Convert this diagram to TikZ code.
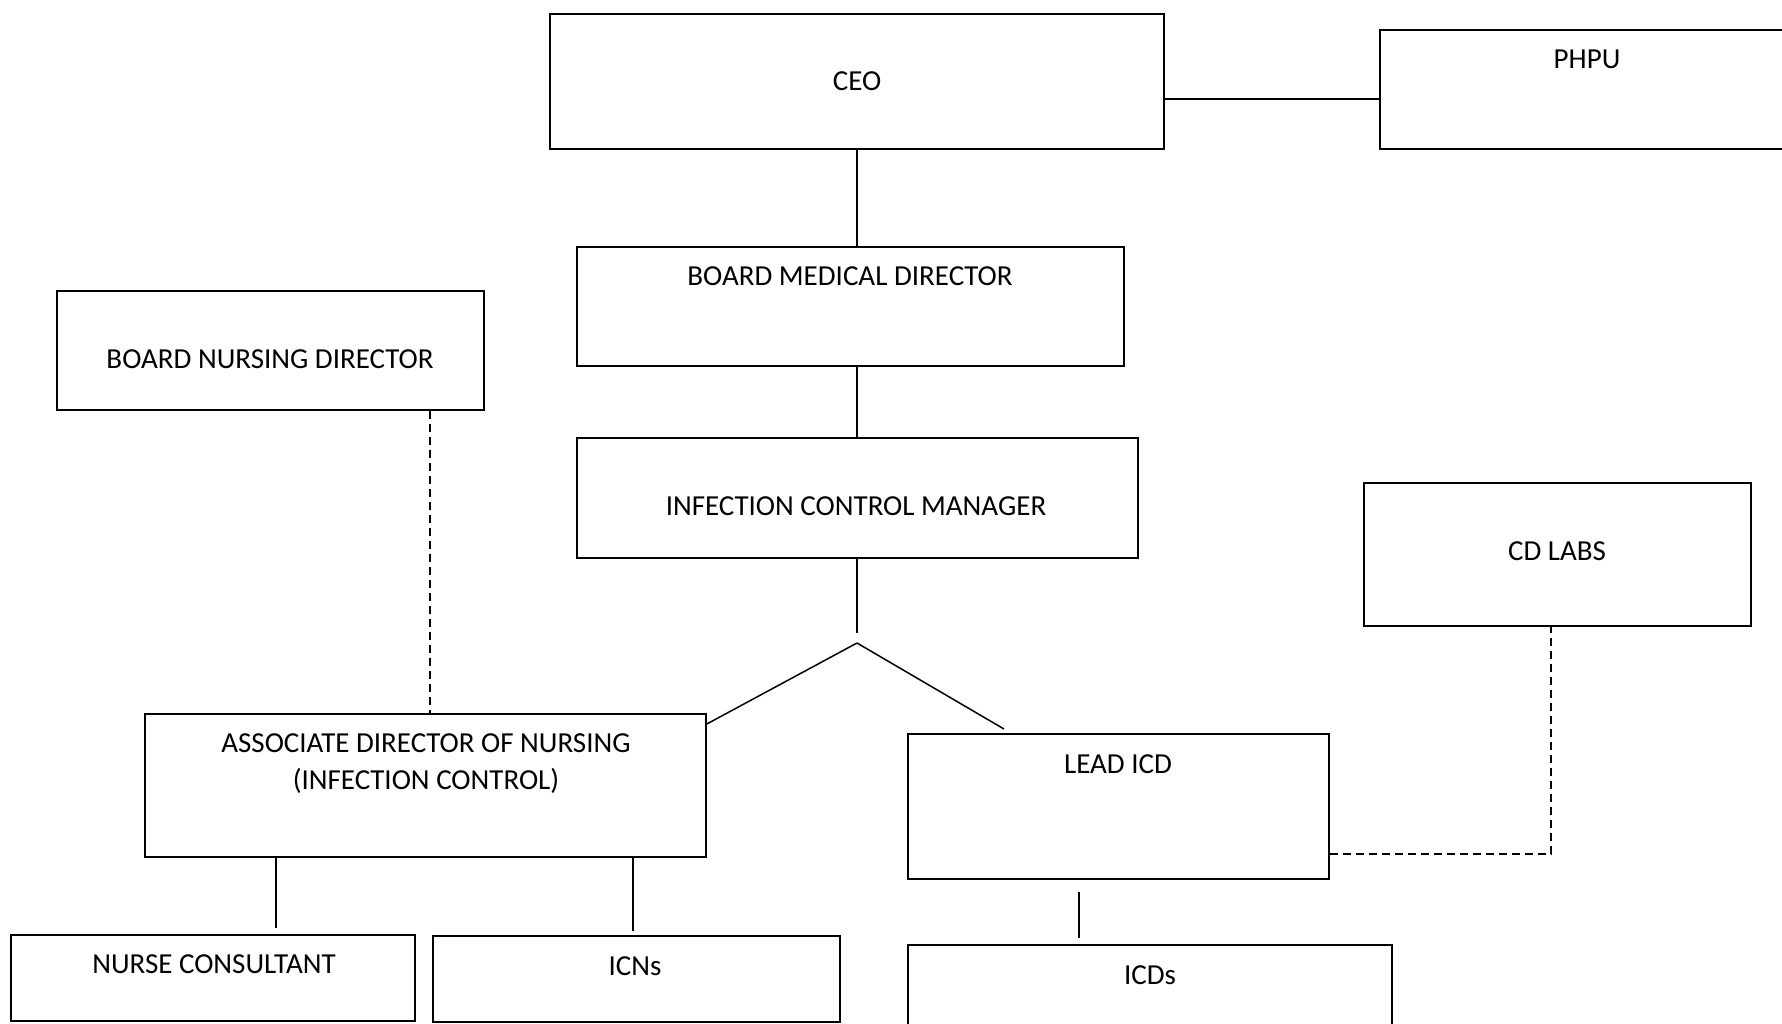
\documentclass[tikz,border=0pt]{standalone}
\usepackage{fontspec}
\setmainfont{Carlito}
\usetikzlibrary{fit,calc}
\tikzset{
  box/.style={draw=black, line width=1.6pt, inner sep=0pt, fill=white},
  lbl/.style={inner sep=0pt, font=\fontsize{29}{35}\selectfont, align=center},
  link/.style={draw=black, line width=1.5pt},
  dotted link/.style={draw=black, line width=1.5pt, dash pattern=on 8pt off 5pt},
}
\begin{document}
\begin{tikzpicture}[x=1pt, y=-1pt]
\useasboundingbox (0,0) rectangle (1782,1024);

% boxes
\node[box, fit={(550,14) (1164,149)}] (ceo) {};
\node[box, fit={(1380,30) (1790,149)}] (phpu) {};
\node[box, fit={(577,247) (1124,366)}] (bmd) {};
\node[box, fit={(57,291) (484,410)}] (bnd) {};
\node[box, fit={(577,438) (1138,558)}] (icm) {};
\node[box, fit={(1364,483) (1751,626)}] (cdlabs) {};
\node[box, fit={(145,714) (706,857)}] (adn) {};
\node[box, fit={(908,734) (1329,879)}] (lead) {};
\node[box, fit={(11,935) (415,1021)}] (nc) {};
\node[box, fit={(433,936) (840,1022)}] (icns) {};
\node[box, fit={(908,945) (1392,1040)}] (icds) {};

% labels
\node[lbl] (tceo) at (857,81) {CEO};
\node[lbl] (tphpu) at (1587,59) {PHPU};
\node[lbl] (tbmd) at (850,276) {BOARD MEDICAL DIRECTOR};
\node[lbl] (tbnd) at (270,359) {BOARD NURSING DIRECTOR};
\node[lbl] (ticm) at (856,506) {INFECTION CONTROL MANAGER};
\node[lbl] (tcd) at (1557,551) {CD LABS};
\node[lbl] (tadn1) at (426,743) {ASSOCIATE DIRECTOR OF NURSING};
\node[lbl] (tadn2) at (426,781) {(INFECTION CONTROL)};
\node[lbl] (tlead) at (1118,764) {LEAD ICD};
\node[lbl] (tnc) at (214,964) {NURSE CONSULTANT};
\node[lbl] (ticns) at (635,966) {ICNs};
\node[lbl] (ticds) at (1150,975) {ICDs};

% helper coordinates for connector columns
\coordinate (xceo) at (857,0);
\coordinate (xbnd) at (430,0);
\coordinate (xcd) at (1551,0);
\coordinate (xnc) at (276,0);
\coordinate (xicn) at (633,0);
\coordinate (xicd) at (1079,0);
\coordinate (stem) at (857,633);
\coordinate (apex) at (857,643);
\coordinate (rend) at (1004,729);

% solid reporting lines
\draw[link] ([yshift=-17.5pt]ceo.east) -- ([yshift=-9.5pt]phpu.west);
\draw[link] (ceo.south -| xceo) -- (bmd.north -| xceo);
\draw[link] (bmd.south -| xceo) -- (icm.north -| xceo);
\draw[link] (icm.south -| xceo) -- (stem);
\draw[link] (apex) -- ([yshift=61.5pt]adn.east);
\draw[link] (apex) -- (rend);
\draw[link, shorten >=6pt] (adn.south -| xnc) -- (nc.north -| xnc);
\draw[link, shorten >=4pt] (adn.south -| xicn) -- (icns.north -| xicn);
\draw[link, shorten <=12pt, shorten >=6pt] (lead.south -| xicd) -- (icds.north -| xicd);

% dashed advisory lines
\draw[dotted link] (bnd.south -| xbnd) -- (adn.north -| xbnd);
\draw[dotted link] ([yshift=-47.5pt]lead.east) -| (cdlabs.south -| xcd);
\end{tikzpicture}
\end{document}
